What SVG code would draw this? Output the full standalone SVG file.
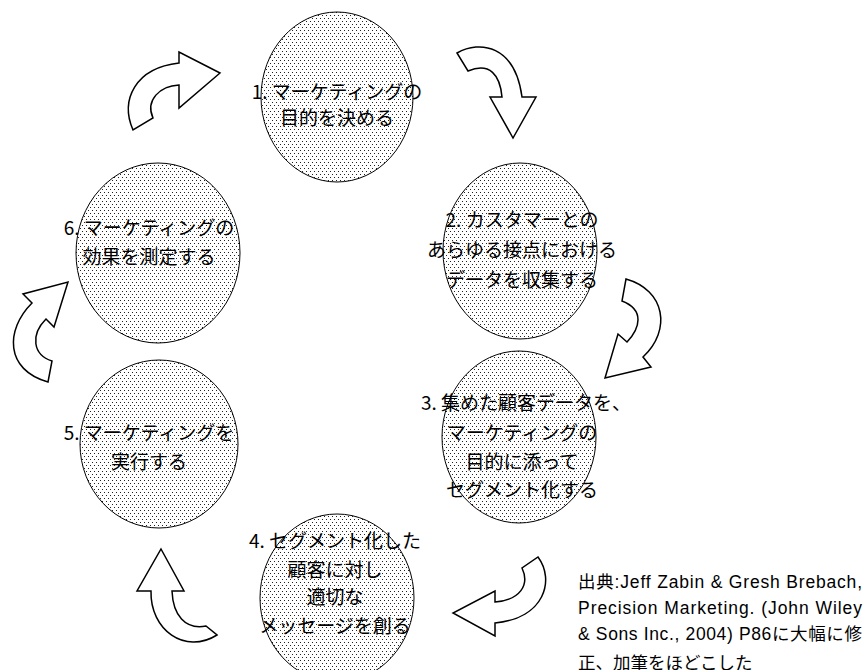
<svg xmlns="http://www.w3.org/2000/svg" width="868" height="670" viewBox="0 0 868 670">
<defs>
<pattern id="dots" width="4" height="6" patternUnits="userSpaceOnUse">
<rect width="4" height="6" fill="#fff"/>
<rect x="0" y="0" width="1" height="1" fill="#222"/>
<rect x="2" y="3" width="1" height="1" fill="#222"/>
</pattern>
</defs>
<style>
.node ellipse{fill:url(#dots);stroke:#000;stroke-width:1}
.lbl{font-family:"Noto Sans CJK JP","Liberation Sans",sans-serif;font-size:19px;fill:#000;text-anchor:middle}
.arr path{fill:#fff;stroke:#000;stroke-width:1.5;stroke-linejoin:miter}
.cite{font-family:"Liberation Sans","Noto Sans CJK JP",sans-serif;font-size:17.5px;fill:#000}
</style>
<rect width="868" height="670" fill="#fff"/>
<g id="connectors" class="arr">
<path d="M133,130 C120,100 135,68 179,63 L179,52 L220,73 L179,108 L179,85 C160,86 145,100 153,118 Z"/>
<path d="M457,53 C480,40 515,45 522,97 L536,97 L513,138 L490,97 L502,97 C500,75 490,62 468,71 Z"/>
<path d="M626,279 C665,290 672,330 643,357 L651,367 L605,378 L618,334 L627,342 C640,328 645,310 622,301 Z"/>
<path d="M538,557 C555,580 545,618 495,623 L495,636 L453,613 L495,591 L495,602 C520,600 530,585 522,568 Z"/>
<path d="M161,549 L184,591 L172,591 C173,615 185,630 206,626 L217,635 C185,655 150,630 151,591 L137,591 Z"/>
<path d="M68,282 L54,327 L46,319 C30,335 33,355 52,361 L48,382 C5,370 5,330 32,303 L23,294 Z"/>
</g>
<g id="node1" class="node">
<ellipse cx="337" cy="97" rx="76" ry="85"/>
<text class="lbl" x="337" y="99">1. マーケティングの</text>
<text class="lbl" x="337" y="125">目的を決める</text>
</g>
<g id="node2" class="node">
<ellipse cx="520" cy="251" rx="77" ry="88"/>
<text class="lbl" x="522" y="227">2. カスタマーとの</text>
<text class="lbl" x="522" y="257">あらゆる接点における</text>
<text class="lbl" x="522" y="287">データを収集する</text>
</g>
<g id="node3" class="node">
<ellipse cx="519" cy="437" rx="77" ry="86"/>
<text class="lbl" x="526" y="410">3. 集めた顧客データを、</text>
<text class="lbl" x="522" y="440">マーケティングの</text>
<text class="lbl" x="522" y="469">目的に添って</text>
<text class="lbl" x="522" y="497">セグメント化する</text>
</g>
<g id="node4" class="node">
<ellipse cx="337" cy="598" rx="77" ry="84"/>
<text class="lbl" x="335" y="548">4. セグメント化した</text>
<text class="lbl" x="335" y="577">顧客に対し</text>
<text class="lbl" x="335" y="604">適切な</text>
<text class="lbl" x="335" y="633">メッセージを創る</text>
</g>
<g id="node5" class="node">
<ellipse cx="159" cy="444" rx="79" ry="84"/>
<text class="lbl" x="149" y="440">5. マーケティングを</text>
<text class="lbl" x="149" y="469">実行する</text>
</g>
<g id="node6" class="node">
<ellipse cx="158" cy="253" rx="82" ry="90"/>
<text class="lbl" x="149" y="235">6. マーケティングの</text>
<text class="lbl" x="149" y="264">効果を測定する</text>
</g>
<g id="citation">
<text class="cite" x="578" y="588" textLength="284" lengthAdjust="spacing">出典:Jeff Zabin &amp; Gresh Brebach,</text>
<text class="cite" x="578" y="614" textLength="284" lengthAdjust="spacing">Precision Marketing. (John Wiley</text>
<text class="cite" x="578" y="640" textLength="284" lengthAdjust="spacing">&amp; Sons Inc., 2004) P86に大幅に修</text>
<text class="cite" x="578" y="669">正、加筆をほどこした</text>
</g>
</svg>
